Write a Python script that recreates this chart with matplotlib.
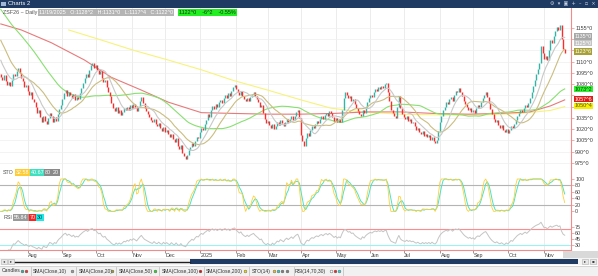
import matplotlib
matplotlib.use("Agg")
import matplotlib.pyplot as plt
import numpy as np
import pandas as pd
from matplotlib.patches import Rectangle

W, H = 598, 276
plt.rcParams['font.family'] = ['Liberation Sans', 'DejaVu Sans']

# daily closes shown on the chart, one per trading day from 9 Jul 2024
closes = [
    1090, 1086, 1092, 1084, 1079, 1083, 1078, 1086, 1094, 1091,
    1097, 1102, 1095, 1088, 1084, 1076, 1079, 1071, 1066, 1069,
    1060, 1056, 1050, 1042, 1046, 1036, 1030, 1038, 1031, 1027,
    1035, 1042, 1038, 1030, 1036, 1031, 1040, 1047, 1052, 1060,
    1068, 1072, 1064, 1070, 1066, 1061, 1067, 1059, 1063, 1060,
    1068, 1075, 1082, 1088, 1094, 1090, 1099, 1105, 1108, 1102,
    1106, 1099, 1094, 1097, 1088, 1083, 1086, 1076, 1070, 1064,
    1055, 1048, 1044, 1050, 1042, 1046, 1039, 1043, 1048, 1045,
    1050, 1046, 1052, 1048, 1053, 1049, 1044, 1050, 1057, 1063,
    1055, 1048, 1044, 1040, 1036, 1032, 1029, 1034, 1027, 1024,
    1028, 1021, 1018, 1023, 1016, 1019, 1013, 1009, 1014, 1007,
    1003, 1008, 998, 994, 999, 988, 984, 980, 986, 992,
    996, 1001, 997, 1004, 1010, 1008, 1016, 1022, 1019, 1027,
    1032, 1040, 1036, 1045, 1051, 1047, 1054, 1050, 1056, 1059,
    1055, 1061, 1066, 1062, 1068, 1064, 1071, 1076, 1079, 1074,
    1070, 1066, 1071, 1064, 1060, 1057, 1062, 1058, 1063, 1066,
    1069, 1064, 1060, 1056, 1050, 1052, 1041, 1033, 1028, 1031,
    1025, 1022, 1027, 1020, 1024, 1029, 1026, 1032, 1028, 1024,
    1030, 1034, 1029, 1033, 1037, 1032, 1038, 1043, 1046, 1035,
    1012, 1004, 998, 1008, 1015, 1011, 1019, 1024, 1021, 1027,
    1031, 1028, 1034, 1037, 1033, 1039, 1042, 1038, 1044, 1041,
    1036, 1031, 1035, 1029, 1033, 1030, 1045, 1062, 1070, 1066,
    1061, 1064, 1058, 1060, 1053, 1048, 1044, 1040, 1037, 1046,
    1041, 1050, 1056, 1061, 1065, 1063, 1069, 1073, 1071, 1076,
    1074, 1078, 1075, 1080, 1082, 1070, 1058, 1046, 1042, 1038,
    1035, 1050, 1064, 1048, 1040, 1036, 1033, 1038, 1031, 1034,
    1028, 1030, 1024, 1019, 1022, 1016, 1013, 1017, 1011, 1014,
    1009, 1012, 1006, 1010, 1004, 1001, 1006, 1018, 1029, 1038,
    1045, 1050, 1056, 1053, 1060, 1063, 1058, 1066, 1071, 1069,
    1075, 1070, 1064, 1058, 1053, 1049, 1045, 1048, 1043, 1046,
    1041, 1048, 1052, 1050, 1056, 1061, 1066, 1069, 1063, 1055,
    1047, 1040, 1034, 1029, 1032, 1026, 1022, 1025, 1019, 1016,
    1020, 1015, 1019, 1024, 1021, 1027, 1032, 1038, 1042, 1046,
    1043, 1048, 1052, 1049, 1055, 1062, 1070, 1078, 1086, 1094,
    1100, 1108, 1130, 1122, 1114, 1117, 1112, 1126, 1138, 1134,
    1144, 1150, 1156, 1152, 1158, 1140, 1127, 1122,
]
# closes just before the window (only feed the 10/20/50 averages)
pre_closes = [
    1238, 1232, 1236, 1229, 1224, 1230, 1226, 1219, 1222, 1215,
    1218, 1212, 1207, 1211, 1204, 1208, 1201, 1196, 1203, 1198,
    1192, 1197, 1190, 1186, 1193, 1188, 1182, 1185, 1179, 1184,
    1178, 1172, 1176, 1169, 1174, 1167, 1161, 1156, 1150, 1145,
    1139, 1132, 1126, 1120, 1113, 1107, 1101, 1096, 1093,
]

# long averages (bar index, price)
sma100_bars = [0, 13, 32, 53, 70, 89, 106, 127, 147, 169, 190, 211, 232, 253, 274, 296, 316, 335, 348, 357]
sma100_vals = [1160, 1152, 1135, 1112, 1089, 1072, 1056, 1042, 1041, 1040, 1040, 1041, 1043, 1043, 1041, 1040, 1041, 1043, 1051, 1059]
sma200_bars = [43, 63, 84, 106, 127, 147, 169, 190, 209, 228, 253, 278, 304, 329, 348, 357]
sma200_vals = [1152, 1139, 1125, 1112, 1099, 1085, 1072, 1059, 1048, 1043, 1040, 1039, 1039, 1041, 1045, 1050]

price_ticks = [975, 990, 1005, 1020, 1035, 1050, 1065, 1080, 1095, 1110, 1125, 1140, 1155]
hidden_ticks = [1050, 1065, 1125, 1140]   # sit under the value tags
sto_ticks = [0, 20, 40, 60, 80, 100]
rsi_ticks = [30, 45, 60, 75]

# right-hand value tags: text, price, colour, text colour
price_tags = [
    ("1135^0", 1143.0, "#a8a8a8", "white"),
    ("1125^0", 1134.5, "#c4c4c4", "white"),
    ("1123^6", 1123.6, "#a6a036", "white"),
    ("1073^2", 1073.4, "#33ee33", "#104010"),
    ("1057^6", 1060.0, "#dd1c1c", "white"),
    ("1050^4", 1051.0, "#f6f000", "#605000"),
]

legend_items = [
    ("Candles", ["#2bb3a3", "#ff2d2d"]),
    ("SMA(Close,10)", ["#9a9a9a"]),
    ("SMA(Close,20)", ["#a09a30"]),
    ("SMA(Close,50)", ["#22dd22"]),
    ("SMA(Close,100)", ["#dd1111"]),
    ("SMA(Close,200)", ["#eedd00"]),
    ("STO(14)", ["#f0c020", "#30d0c0", "#808080", "#808080"]),
    ("RSI(14,70,30)", ["#ffffff", "#ff2020", "#20e0e0"]),
]

# ---- indicators
full = pd.Series(pre_closes + closes, dtype=float)
n = len(closes)
sma10 = full.rolling(10).mean().iloc[-n:].to_numpy()
sma20 = full.rolling(20).mean().iloc[-n:].to_numpy()
sma50 = full.rolling(50).mean().iloc[-n:].to_numpy()

lo14 = full.rolling(14).min()
hi14 = full.rolling(14).max()
fast_k = 100 * (full - lo14) / (hi14 - lo14)
sto_k = fast_k.rolling(2).mean().iloc[-n:].to_numpy()
sto_d = fast_k.rolling(4).mean().iloc[-n:].to_numpy()

diff = full.diff()
gain = diff.clip(lower=0).ewm(alpha=1 / 14, adjust=False).mean()
loss = (-diff.clip(upper=0)).ewm(alpha=1 / 14, adjust=False).mean()
rsi = (100 - 100 / (1 + gain / loss)).iloc[-n:].to_numpy()

x = np.arange(n)
opens = np.array([pre_closes[-1]] + closes[:-1], dtype=float)
cl = np.array(closes, dtype=float)

dates = pd.bdate_range("2024-07-09", periods=n)
month_idx = [i for i in range(1, n) if dates[i].month != dates[i - 1].month]
month_lbl = ["2025" if dates[i].month == 1 else dates[i].strftime("%b") for i in month_idx]

# ---- figure
fig = plt.figure(figsize=(W / 100, H / 100), dpi=100)
fig.patch.set_facecolor("white")

def fbox(top, bottom):
    return [0, 1 - bottom / H, 571 / W, (bottom - top) / H]

ax = fig.add_axes(fbox(8, 168))
ax_sto = fig.add_axes(fbox(168, 213))
ax_rsi = fig.add_axes(fbox(213, 250))

edge = "#f08c8c"
for a in (ax, ax_sto, ax_rsi):
    a.set_xlim(-0.5, 361)
    a.yaxis.tick_right()
    a.tick_params(axis="y", length=2, width=0.5, color=edge, pad=1,
                  labelsize=3.9, labelcolor="#404040")
    a.tick_params(axis="x", length=0, labelbottom=False)
    for s in ("top", "left", "bottom"):
        a.spines[s].set_visible(False)
    a.spines["right"].set_color(edge)
    a.spines["right"].set_linewidth(0.8)
    for m in month_idx:
        a.axvline(m, color="#e9e9e9", lw=0.6, zorder=0)

# price panel
ax.set_ylim(968.4, 1181.2)
ax.set_yticks(price_ticks)
ax.set_yticklabels(["" if v in hidden_ticks else f"{v}^0" for v in price_ticks])
for v in price_ticks:
    ax.axhline(v, color="#eeeeee", lw=0.5, zorder=0)

up = cl >= opens
ax.vlines(x[up], opens[up], cl[up], color="#34b4a6", lw=1.0, zorder=3)
ax.vlines(x[~up], opens[~up], cl[~up], color="#ff2a2a", lw=1.0, zorder=3)

ax.plot(sma200_bars, sma200_vals, color="#f8f27a", lw=0.8, zorder=2)
ax.plot(sma100_bars, sma100_vals, color="#e87a7a", lw=0.8, zorder=2)
ax.plot(x, sma50, color="#88e070", lw=0.8, zorder=2)
ax.plot(x, sma20, color="#cbbd80", lw=0.8, zorder=4)
ax.plot(x, sma10, color="#c8c8c8", lw=0.8, zorder=4)

for txt, val, fc, tc in price_tags:
    ax.text(1.006, val, txt, transform=ax.get_yaxis_transform(), ha="left", va="center",
            fontsize=3.9, color=tc, clip_on=False, zorder=6,
            bbox=dict(boxstyle="square,pad=0.15", fc=fc, ec="none"))

# stochastic panel
ax_sto.set_ylim(-5, 134)
ax_sto.set_yticks(sto_ticks)
ax_sto.axhline(80, color="#b4b4b4", lw=0.8)
ax_sto.axhline(20, color="#b4b4b4", lw=0.8)
ax_sto.plot(x, sto_d, color="#4be3c3", lw=0.7, zorder=3)
ax_sto.plot(x, sto_k, color="#ffcf3a", lw=0.6, zorder=4)
ax_sto.axhline(-5, color="#e6e6e6", lw=0.6)

# rsi panel
ax_rsi.set_ylim(18.5, 109)
ax_rsi.set_yticks(rsi_ticks)
ax_rsi.axhline(70, color="#ff8c8c", lw=0.8)
ax_rsi.axhline(30, color="#9cf2f2", lw=0.8)
ax_rsi.plot(x, rsi, color="#c4c4c4", lw=0.7, zorder=3)
ax_rsi.spines["bottom"].set_visible(True)
ax_rsi.spines["bottom"].set_color(edge)
ax_rsi.spines["bottom"].set_linewidth(0.8)
ax_rsi.set_xticks(month_idx)
ax_rsi.tick_params(axis="x", length=2, width=0.5, color="#707070")
for m, lbl in zip(month_idx, month_lbl):
    ax_rsi.text(m + 0.5, -0.14, lbl, transform=ax_rsi.get_xaxis_transform(),
                ha="left", va="center", fontsize=3.9, color="#404040", clip_on=False)

# ---- overlay in pixel units: title bar, headers, scrollbar, legend strip
ov = fig.add_axes([0, 0, 1, 1])
ov.set_xlim(0, W)
ov.set_ylim(H, 0)
ov.axis("off")
ov.patch.set_visible(False)

navy = "#1f3b63"
ov.add_patch(Rectangle((0, 0), W, 7.6, fc=navy, ec="none"))
ov.add_patch(Rectangle((0.5, 1.5), 5, 4, fc="#9fb6d6", ec="none"))
ov.text(8, 3.9, "Charts 2", fontsize=4.2, color="white", va="center")
ov.text(596, 3.9, "⚙  ▾  ▣  +  –  ▫  ×", fontsize=3.6, color="#c8d4e4", va="center", ha="right",
        family="DejaVu Sans")

def tag(px, py, s, fc, tc="white"):
    ov.text(px, py, s, fontsize=3.9, color=tc, va="center", ha="left",
            bbox=dict(boxstyle="square,pad=0.2", fc=fc, ec="none"))

ov.text(3, 12.5, "ZSF26 ~ Daily", fontsize=3.9, color="#505050", va="center")
tag(39, 12.5, "11/19/2025   O:1128^2   H:1131^0   L:1117^4   C:1122^0", "#b4b4b4")
tag(179, 12.5, "1122^0    -6^2    -0.55%", "#22ee22", "#0a3a0a")

ov.text(3, 172.5, "STO", fontsize=3.9, color="#505050", va="center")
tag(16, 172.5, "32.58", "#ffcc33")
tag(31, 172.5, "40.67", "#3fe0c0")
tag(45, 172.5, "80", "#8a8a8a")
tag(53, 172.5, "20", "#8a8a8a")

ov.text(3, 217.5, "RSI", fontsize=3.9, color="#505050", va="center")
tag(14, 217.5, "55.84", "#9a9a9a")
tag(30, 217.5, "70", "#ff2020")
tag(37, 217.5, "30", "#22e6e6", "#0a4040")

ov.add_patch(Rectangle((563, 251), 35, 6.5, fc="#d9d9d9", ec="none"))

# scrollbar
ov.add_patch(Rectangle((0, 258), W, 7, fc="#f4f4f4", ec="none"))
for bx in (1, 8, 582, 590):
    ov.add_patch(Rectangle((bx, 258.8), 6, 5.4, fc="#e8e8e8", ec="#b0b0b0", lw=0.4))
for bx, glyph in ((4, "◂"), (11, "▸"), (585, "▸"), (593, "▪")):
    ov.text(bx, 261.5, glyph, fontsize=3, ha="center", va="center", color="#404040", family="DejaVu Sans")
ov.plot([15, 190], [261.5, 261.5], color="#202020", lw=1.0)
ov.add_patch(Rectangle((190, 259.2), 388, 4.6, fc=navy, ec="none"))

# legend strip
ov.add_patch(Rectangle((0, 265.5), W, 10.5, fc="#f1f1f1", ec="none"))
ov.plot([0, W], [265.7, 265.7], color="#c8c8c8", lw=0.5)
item_x = [2, 33, 79, 119, 162, 206, 252, 295]
dot_x = [22, 72, 112, 155, 200, 245, 274, 331]
sep_x = [30.5, 76, 116, 158.5, 203.5, 249, 293.5, 343]
for (label, cols), tx, dx, sx in zip(legend_items, item_x, dot_x, sep_x):
    ov.text(tx, 271, label, fontsize=3.6, color="#303030", va="center", ha="left")
    for k, c in enumerate(cols):
        ov.scatter(dx + 4.2 * k, 271, s=4.0, color=c, edgecolors="#555555", linewidths=0.3, zorder=5)
    ov.plot([sx, sx], [267, 275.5], color="#bdbdbd", lw=0.5)

fig.savefig("out.png", dpi=100, facecolor="white")
